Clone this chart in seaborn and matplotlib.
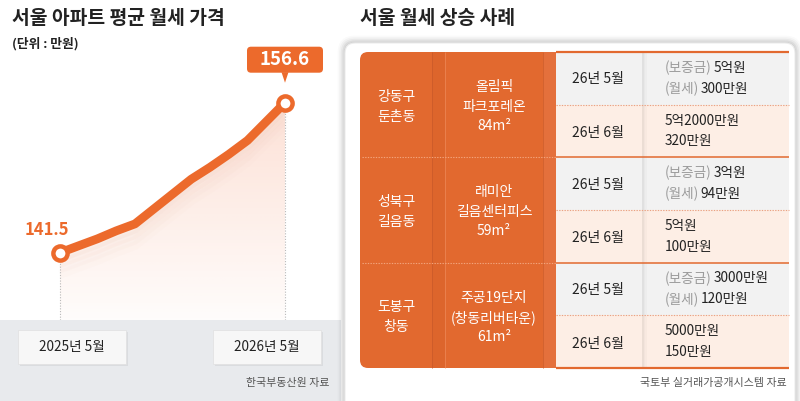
import numpy as np
import pandas as pd
import matplotlib
matplotlib.use("Agg")
import matplotlib.pyplot as plt
import seaborn as sns
from matplotlib.patches import FancyBboxPatch, Rectangle, Polygon

sns.set_theme(style="white")
plt.rcParams['font.family'] = ['Noto Sans CJK KR', 'DejaVu Sans']

# ---------------- data ----------------
month_index = list(range(13))
rent_avg = [141.5, 142.2, 142.9, 143.7, 144.4, 145.9, 147.4, 148.9,
            150.1, 151.4, 152.8, 154.7, 156.6]
x_tick_labels = ["2025년 5월", "2026년 5월"]
left_title = "서울 아파트 평균 월세 가격"
unit_label = "(단위 : 만원)"
left_source = "한국부동산원 자료"

right_title = "서울 월세 상승 사례"
districts = [["강동구", "둔촌동"], ["성북구", "길음동"], ["도봉구", "창동"]]
apartments = [["올림픽", "파크포레온", "84m²"],
              ["래미안", "길음센터피스", "59m²"],
              ["주공19단지", "(창동리버타운)", "61m²"]]
deal_dates = ["26년 5월", "26년 6월"]
deposit_prefix = "(보증금)"
rent_prefix = "(월세)"
may_deposit = ["5억원", "3억원", "3000만원"]
may_rent = ["300만원", "94만원", "120만원"]
jun_deposit = ["5억2000만원", "5억원", "5000만원"]
jun_rent = ["320만원", "100만원", "150만원"]
right_source = "국토부 실거래가공개시스템 자료"

# ---------------- style ----------------
ORANGE = "#EC6A2C"
TORANGE = "#E2692F"
DARK = "#222222"
GRAY_TXT = "#9b9b9b"
STRIP = "#e8eaed"
TW = "medium"

W, H = 800, 401
fig = plt.figure(figsize=(W / 100, H / 100), dpi=100)
fig.patch.set_facecolor("white")

# background overlay in pixel coordinates
bg = fig.add_axes([0, 0, 1, 1], zorder=0)
bg.set_xlim(0, W); bg.set_ylim(H, 0); bg.axis("off")

# left gray strip
bg.add_patch(Rectangle((0, 320), 341, 90, fc=STRIP, ec="none"))

# right card with shadow
CX0, CY0, CW, CH = 345, 43, 450, 400
for i, a in enumerate([0.05, 0.05, 0.04, 0.03, 0.02]):
    g = 1 + i * 1.6
    bg.add_patch(FancyBboxPatch((CX0 - g, CY0 - g), CW + 2 * g, CH + 2 * g,
                                boxstyle="round,pad=0,rounding_size=%f" % (10 + g),
                                fc="#000000", ec="none", alpha=a))
bg.add_patch(FancyBboxPatch((CX0, CY0), CW, CH,
                            boxstyle="round,pad=0,rounding_size=10",
                            fc="white", ec="#ececec", lw=0.8))

# titles
bg.text(12, 18, left_title, fontsize=13.9, fontweight="heavy", color=DARK,
        ha="left", va="center")
bg.text(12, 44, unit_label, fontsize=9.2, fontweight="heavy", color=DARK,
        ha="left", va="center")
bg.text(360, 18, right_title, fontsize=13.9, fontweight="heavy", color=DARK,
        ha="left", va="center")

# ---------------- line chart ----------------
ax_px = (0, 340, 55, 320)  # left, right, top, bottom in pixels
ax = fig.add_axes([ax_px[0] / W, (H - ax_px[3]) / H,
                   (ax_px[1] - ax_px[0]) / W, (ax_px[3] - ax_px[2]) / H], zorder=1)
ax.patch.set_alpha(0)
# scale: first point at px 60, last at px 285; values 141.5 -> 252.7, 156.6 -> 102.7
sx = (285 - 60) / (month_index[-1] - month_index[0])
x0 = month_index[0] - (60 - ax_px[0]) / sx
x1 = month_index[0] + (ax_px[1] - 60) / sx
sy = (252.7 - 102.7) / (rent_avg[-1] - rent_avg[0])
y0 = rent_avg[0] - (ax_px[3] - 252.7) / sy
y1 = rent_avg[0] + (252.7 - ax_px[2]) / sy
ax.set_xlim(x0, x1); ax.set_ylim(y0, y1)
ax.axis("off")

df = pd.DataFrame({"month": month_index, "rent": rent_avg})

# gradient fill under the line
poly = [(m, v) for m, v in zip(month_index, rent_avg)]
poly += [(month_index[-1], y0), (month_index[0], y0)]
clip = Polygon(poly, closed=True, transform=ax.transData, fc="none", ec="none")
ax.add_patch(clip)
ngrad = 256
grad = np.zeros((ngrad, 1, 4))
grad[:, 0, 0] = 0.97; grad[:, 0, 1] = 0.60; grad[:, 0, 2] = 0.46
grad[:, 0, 3] = np.linspace(0.30, 0.03, ngrad)
im = ax.imshow(grad, aspect="auto", origin="upper",
               extent=[month_index[0], month_index[-1], y0, rent_avg[-1]],
               zorder=1)
im.set_clip_path(clip)
ax.set_xlim(x0, x1); ax.set_ylim(y0, y1)

# soft shadow right under the line
for k, a in enumerate([0.10, 0.07, 0.05, 0.03]):
    ax.plot(month_index, [v - (k + 1) * 0.55 for v in rent_avg], color="#e9b9a4",
            lw=6, alpha=a, solid_capstyle="butt", zorder=2)

# dotted guides
ax.vlines([month_index[0], month_index[-1]], y0, [rent_avg[0], rent_avg[-1]],
          colors="#b9b9b9", linestyles=(0, (1, 1.5)), lw=0.8, zorder=2)

sns.lineplot(data=df, x="month", y="rent", ax=ax, color=ORANGE, lw=6.3,
             solid_capstyle="round", solid_joinstyle="round", zorder=3,
             legend=False)
ends = df.iloc[[0, -1]]
sns.scatterplot(data=ends, x="month", y="rent", ax=ax, s=105, color="white",
                edgecolor=ORANGE, linewidth=3.2, zorder=4, legend=False)
ax.set_xlim(x0, x1); ax.set_ylim(y0, y1)
ax.set_xlabel(""); ax.set_ylabel("")

# foreground overlay
fg = fig.add_axes([0, 0, 1, 1], zorder=2)
fg.set_xlim(0, W); fg.set_ylim(H, 0); fg.axis("off"); fg.patch.set_alpha(0)


def to_px(xv, yv):
    d = ax.transData.transform((xv, yv))
    return fg.transData.inverted().transform(d)


# start label
sxp, syp = to_px(month_index[0], rent_avg[0])
fg.text(sxp - 13, syp - 23, f"{rent_avg[0]:.1f}", fontsize=12, fontweight="bold",
        color=ORANGE, ha="center", va="center")
# end label box
exp_, eyp = to_px(month_index[-1], rent_avg[-1])
fg.add_patch(FancyBboxPatch((exp_ - 38, eyp - 56), 76, 26,
                            boxstyle="round,pad=0,rounding_size=4",
                            fc=ORANGE, ec="none"))
fg.add_patch(Polygon([(exp_ - 3.5, eyp - 30.5), (exp_ + 3.5, eyp - 30.5),
                      (exp_, eyp - 20)], closed=True, fc=ORANGE, ec="none"))
fg.text(exp_, eyp - 43.5, f"{rent_avg[-1]:.1f}", fontsize=13.5, fontweight="bold",
        color="white", ha="center", va="center")

# x label boxes
for cx, lab in zip([72, 267], x_tick_labels):
    fg.add_patch(Rectangle((cx - 54 + 1.5, 330 + 2), 108, 34, fc="#000000",
                           alpha=0.06, ec="none"))
    fg.add_patch(Rectangle((cx - 54, 330), 108, 34, fc="#f7f7f7", ec="#e0e0e0",
                           lw=0.5))
    fg.text(cx, 347, lab, fontsize=9.8, fontweight=TW, color=DARK, ha="center",
            va="center")

fg.text(330, 383, left_source, fontsize=7.9, color="#555555", ha="right",
        va="center")

# ---------------- table ----------------
tl, tr, tt, tb = 360, 789, 52, 368
col_date0, col_val0 = 556, 642
gh = (tb - tt) / 3.0
# orange part with rounded left corners
fg.add_patch(FancyBboxPatch((tl, tt), 230, tb - tt,
                            boxstyle="round,pad=0,rounding_size=8",
                            fc=TORANGE, ec="none"))
# subtle column separators in the orange
fg.add_patch(Rectangle((432, tt), 13, tb - tt, fc="#d9622a", ec="none", alpha=0.45))
fg.vlines([432], tt, tb, colors="#cc5b2a", lw=0.6)
fg.vlines([445], tt, tb, colors="#ee8a5a", lw=0.5)
fg.add_patch(Rectangle((543, tt), 13, tb - tt, fc="#e7774a", ec="none", alpha=0.5))
fg.vlines([543], tt, tb, colors="#d0602d", lw=0.6)

renderer = fig.canvas.get_renderer()


def two_tone(x, y, pre, val):
    t = fg.text(x, y, pre, fontsize=9.8, fontweight=TW, color=GRAY_TXT,
                ha="left", va="center")
    w = t.get_window_extent(renderer).width
    fg.text(x + w + 1.5, y, val, fontsize=9.8, fontweight=TW, color=DARK,
            ha="left", va="center")


for g in range(3):
    gt = tt + g * gh
    gm = gt + gh / 2
    # right cells backgrounds
    fg.add_patch(Rectangle((col_date0, gt), tr - col_date0, gh / 2, fc="#f2f2f2",
                           ec="none"))
    fg.add_patch(Rectangle((col_date0, gm), tr - col_date0, gh / 2, fc="#fdeee5",
                           ec="none"))
    # column shadow between date and value
    for k, a in enumerate([0.07, 0.04, 0.02]):
        fg.add_patch(Rectangle((col_val0 + k * 1.5, gt), 1.5, gh, fc="#000000",
                               alpha=a, ec="none"))
    # dotted half line
    fg.hlines(gm, col_date0, tr, colors="#e9a283", linestyles=(0, (1.2, 1.2)),
              lw=0.8)
    # district
    cy = gt + gh / 2 + 2
    for j, line in enumerate(districts[g]):
        fg.text(396, cy + (j - 0.5) * 20, line, fontsize=10, fontweight=TW,
                color="white", ha="center", va="center")
    for j, line in enumerate(apartments[g]):
        fg.text(494, cy + (j - 1) * 19.5, line, fontsize=10, fontweight=TW,
                color="white", ha="center", va="center")
    # dates
    fg.text(598, gt + gh / 4 + 1, deal_dates[0], fontsize=10, fontweight=TW,
            color=DARK, ha="center", va="center")
    fg.text(598, gm + gh / 4 + 2, deal_dates[1], fontsize=10, fontweight=TW,
            color=DARK, ha="center", va="center")
    # values
    yA = gt + gh / 4
    two_tone(665, yA - 10.5, deposit_prefix, may_deposit[g])
    two_tone(665, yA + 10.5, rent_prefix, may_rent[g])
    yB = gm + gh / 4
    fg.text(665, yB - 10.5, jun_deposit[g], fontsize=9.8, fontweight=TW,
            color=DARK, ha="left", va="center")
    fg.text(665, yB + 10.5, jun_rent[g], fontsize=9.8, fontweight=TW,
            color=DARK, ha="left", va="center")
    if g > 0:
        fg.hlines(gt, tl + 2, col_date0, colors="#f2a47c",
                  linestyles=(0, (1.2, 1.2)), lw=0.8)
        fg.hlines(gt, col_date0, tr, colors=TORANGE, lw=1.1)

fg.hlines([tt, tb], col_date0, tr, colors=TORANGE, lw=1.6)
fg.text(787, 383, right_source, fontsize=7.9, color="#555555", ha="right",
        va="center")

fig.savefig("out.png", dpi=100, facecolor="white")
